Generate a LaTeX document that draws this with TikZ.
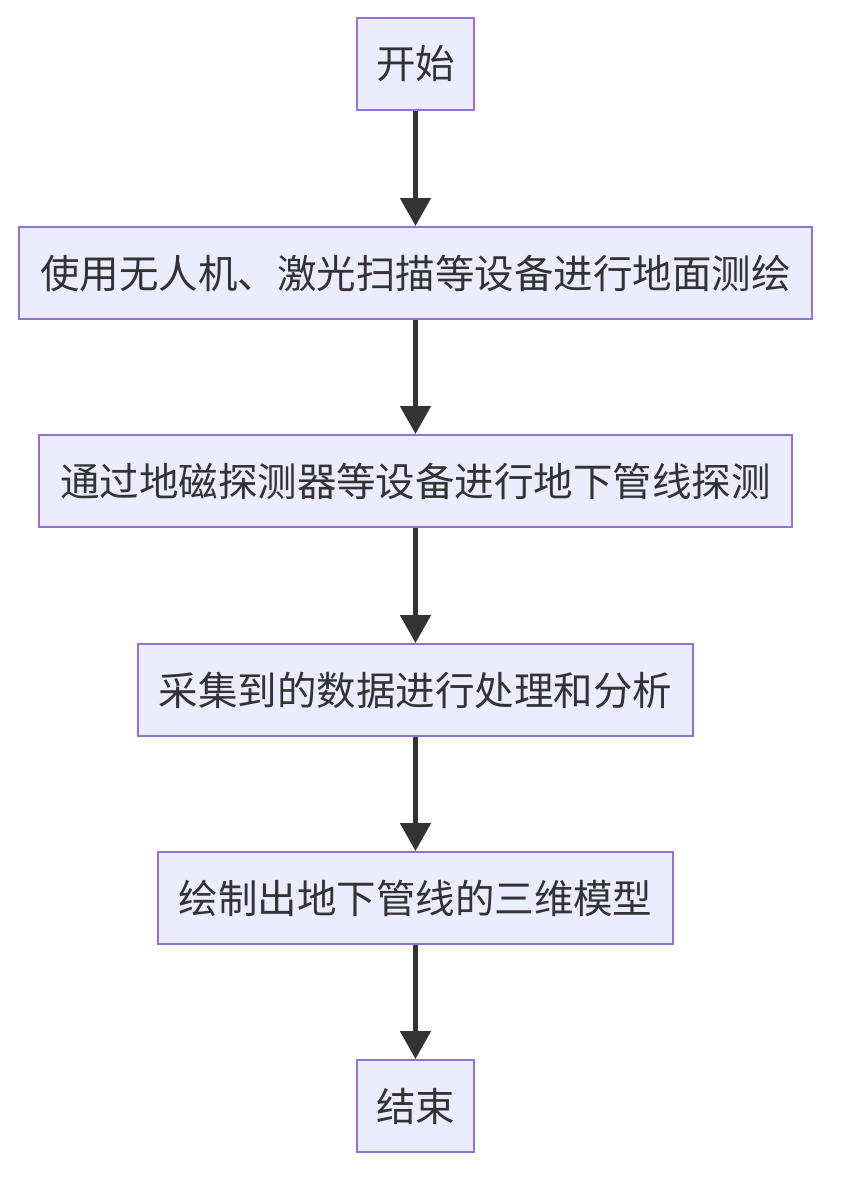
\documentclass[tikz,border=0pt]{standalone}
\usepackage{fontspec}
\usepackage{tikz}
\usetikzlibrary{arrows.meta}
\newfontfamily\cjk{Noto Sans CJK SC}
\definecolor{boxfill}{HTML}{ECECFF}
\definecolor{boxline}{HTML}{9370DB}
\definecolor{darkline}{HTML}{333333}
\tikzstyle{stepbox}=[rectangle, draw = boxline, fill = boxfill, line width = 2pt, minimum height = 92pt, inner sep = 0pt, text = darkline, font = \cjk\fontsize{39.5}{46}\selectfont]
\tikzstyle{flow}=[draw = darkline, line width = 5pt, -{Triangle[length=28pt, width=30pt]}]

\begin{document}
\begin{tikzpicture}[x = 1pt, y = -1pt]
  \useasboundingbox (0,0) rectangle (852,1200);
  \node[stepbox, minimum width = 117pt] (start) at (415.5,64) {开始};
  \node[stepbox, minimum width = 793pt] (survey) at (415.5,273) {使用无人机、激光扫描等设备进行地面测绘};
  \node[stepbox, minimum width = 753pt] (detect) at (415.5,481) {通过地磁探测器等设备进行地下管线探测};
  \node[stepbox, minimum width = 555pt] (process) at (415.5,690) {采集到的数据进行处理和分析};
  \node[stepbox, minimum width = 515pt] (model) at (415.5,898) {绘制出地下管线的三维模型};
  \node[stepbox, minimum width = 117pt] (finish) at (415.5,1106) {结束};
  % connectors
  \draw[flow] (start) -- (survey);
  \draw[flow] (survey) -- (detect);
  \draw[flow] (detect) -- (process);
  \draw[flow] (process) -- (model);
  \draw[flow] (model) -- (finish);
\end{tikzpicture}
\end{document}
